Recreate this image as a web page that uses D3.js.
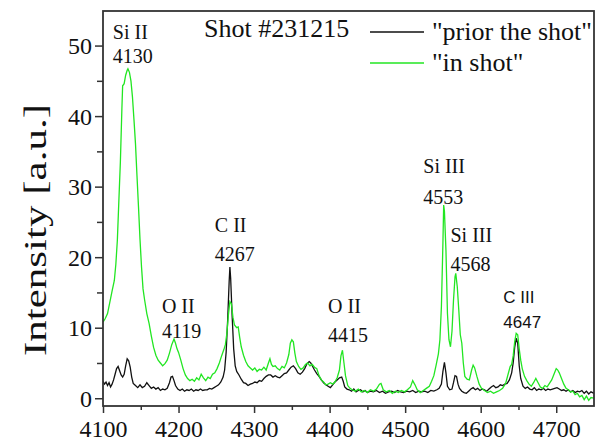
<!DOCTYPE html>
<html><head><meta charset="utf-8">
<script src="https://cdn.jsdelivr.net/npm/d3@7"></script>
<style>body{margin:0;background:#fff}</style>
</head><body><svg id="c" width="602" height="442"></svg>
<script>
// ---- data ----
const priorX=[4100,4102,4104,4106,4108,4110,4112,4114,4116,4118,4120,4122,4124,4126,4128,4130,4132,4134,4136,4138,4140,4143,4146,4149,4152,4155,4158,4161,4164,4167,4170,4173,4176,4179,4182,4185,4188,4190,4192,4194,4196,4199,4202,4205,4208,4211,4214,4217,4220,4223,4226,4229,4232,4235,4238,4241,4244,4247,4250,4253,4256,4259,4261,4263,4265,4267,4268,4269,4271,4273,4275,4277,4280,4283,4286,4289,4292,4295,4298,4301,4304,4307,4310,4313,4316,4319,4322,4325,4328,4331,4334,4337,4340,4343,4346,4349,4352,4355,4358,4361,4364,4367,4370,4373,4375,4377,4380,4383,4386,4389,4392,4395,4398,4401,4404,4407,4410,4413,4416,4418,4420,4423,4426,4429,4432,4435,4438,4441,4444,4447,4450,4454,4458,4462,4466,4470,4474,4478,4482,4486,4490,4494,4498,4502,4506,4510,4514,4518,4522,4526,4530,4534,4538,4542,4545,4548,4550,4552,4554,4556,4559,4562,4564,4566,4568,4570,4572,4575,4578,4581,4584,4587,4590,4593,4596,4599,4602,4605,4608,4611,4614,4617,4620,4623,4626,4629,4632,4635,4638,4641,4643,4645,4647,4649,4651,4653,4656,4659,4662,4665,4668,4671,4674,4677,4680,4683,4686,4689,4692,4695,4698,4701,4704,4707,4710,4713,4716,4719,4722,4725,4728,4731,4734,4737,4740,4743,4746,4750];
const priorY=[2.4,2.0,2.3,1.8,2.2,1.6,2.0,2.6,3.4,4.2,4.5,3.9,3.3,3.0,3.4,4.6,5.6,5.3,4.4,3.0,2.1,1.8,1.5,1.9,1.5,1.7,2.2,1.8,1.4,1.6,1.3,1.5,1.1,1.3,1.2,1.4,2.2,3.0,3.1,2.5,1.8,1.3,1.1,1.3,1.0,1.2,1.1,1.3,1.0,1.2,1.1,1.3,1.1,1.2,1.2,1.4,1.3,1.5,1.7,1.9,2.3,3.0,4.0,6.5,11.0,16.5,18.6,17.0,11.6,7.0,4.6,3.8,3.3,2.7,2.2,2.1,1.8,2.0,2.1,2.3,2.2,2.5,2.4,2.8,3.1,3.3,3.3,3.0,3.2,3.0,2.9,3.2,3.5,3.6,4.0,4.4,4.6,4.2,3.6,3.4,3.7,4.2,4.9,5.2,5.0,4.6,4.0,3.5,3.1,2.6,2.2,1.9,1.7,1.5,1.9,2.3,2.6,2.9,3.0,2.4,1.6,1.3,1.2,1.0,1.3,0.9,1.1,1.2,0.9,1.1,0.8,1.0,0.9,1.1,0.8,1.0,0.7,0.9,1.0,0.8,1.1,0.9,0.8,1.0,0.9,1.1,0.8,1.0,0.9,1.0,0.8,1.1,1.0,1.2,1.4,2.0,3.8,5.1,3.6,1.7,1.2,1.3,2.2,3.2,3.1,2.0,1.4,1.0,0.8,0.7,1.0,1.3,1.5,1.2,1.4,1.1,1.3,1.2,1.0,1.3,1.6,1.8,1.5,1.6,1.9,1.8,2.0,2.1,2.6,3.6,5.0,7.2,8.5,7.8,4.6,2.8,1.7,1.4,1.6,1.3,1.2,1.5,1.1,1.3,1.2,1.4,1.1,1.3,1.2,1.3,1.4,1.5,1.3,1.1,1.2,1.0,1.2,0.9,1.1,0.8,1.0,0.9,1.1,0.7,1.0,0.6,0.9,0.7];
const shotX=[4100,4103,4106,4109,4112,4115,4117,4119,4121,4123,4125,4126,4128,4130,4132,4133,4135,4137,4139,4141,4143,4145,4147,4149,4151,4153,4155,4158,4161,4164,4167,4170,4173,4176,4179,4182,4185,4188,4191,4194,4196,4198,4200,4203,4206,4209,4212,4215,4218,4221,4224,4227,4230,4233,4236,4239,4242,4245,4248,4251,4254,4257,4260,4262,4264,4266,4268,4270,4272,4274,4277,4279,4281,4283,4286,4289,4292,4295,4298,4301,4304,4307,4310,4313,4316,4319,4321,4323,4325,4328,4331,4334,4337,4340,4343,4346,4348,4350,4352,4354,4356,4359,4362,4365,4368,4371,4374,4377,4380,4383,4386,4389,4392,4395,4398,4401,4404,4407,4410,4413,4415,4417,4419,4421,4424,4427,4430,4434,4438,4442,4446,4450,4454,4458,4462,4466,4468,4471,4475,4479,4483,4487,4491,4495,4499,4503,4507,4510,4513,4516,4520,4524,4528,4532,4535,4538,4541,4544,4546,4548,4550,4551,4552,4554,4556,4558,4560,4562,4564,4566,4567,4569,4571,4573,4575,4577,4579,4582,4585,4588,4590,4592,4595,4598,4601,4605,4609,4613,4617,4621,4625,4629,4633,4636,4639,4641,4643,4645,4647,4649,4651,4653,4655,4658,4661,4664,4667,4670,4673,4676,4679,4682,4685,4688,4691,4694,4697,4700,4702,4704,4707,4710,4713,4716,4719,4722,4725,4728,4731,4734,4737,4740,4743,4746,4750];
const shotY=[10.8,11.3,12.0,13.6,15.2,16.7,19.0,22.4,28.0,33.5,41.0,44.3,44.6,45.8,46.5,46.7,46.2,45.0,42.7,39.5,36.1,31.5,27.1,22.5,18.6,15.5,14.0,12.0,10.6,8.8,7.2,6.1,5.4,5.0,4.6,4.9,5.4,6.4,7.6,8.4,7.8,7.0,6.5,5.4,4.2,3.3,2.8,2.5,2.7,2.4,2.9,2.6,3.4,2.9,2.5,3.0,2.8,3.4,3.6,4.2,5.0,6.0,6.9,7.6,9.2,11.8,13.7,13.4,11.5,10.4,10.0,10.1,8.6,7.3,6.1,5.2,4.6,4.3,4.0,4.3,3.8,4.1,4.0,4.4,4.0,5.0,5.6,4.8,4.5,4.6,4.2,4.0,4.5,4.3,5.0,6.2,7.8,8.3,8.0,6.4,5.2,4.5,4.1,4.3,4.8,5.0,4.6,4.8,4.4,4.2,3.2,2.6,2.3,1.9,2.0,2.2,2.0,2.3,2.9,4.0,6.0,6.8,5.0,3.2,1.8,1.4,1.2,1.0,1.3,0.9,1.1,0.8,1.2,1.0,1.3,2.0,2.1,1.2,0.9,1.1,0.7,1.0,0.8,1.1,0.9,1.2,1.6,2.5,1.9,1.2,0.8,1.1,1.4,1.7,2.4,3.2,4.7,6.3,8.3,13.0,22.0,27.4,26.5,21.0,12.0,8.3,7.3,9.5,13.9,17.2,17.7,15.8,12.5,9.0,7.8,5.0,3.1,2.7,2.6,4.0,4.7,4.3,3.1,2.0,1.4,1.1,0.8,1.0,0.7,0.9,1.1,1.4,2.1,3.3,4.5,4.8,6.0,8.0,9.2,9.0,7.0,5.4,4.2,3.1,2.5,2.0,1.7,2.2,2.8,2.2,1.6,1.4,1.8,1.6,2.1,2.6,3.4,4.2,4.0,3.6,2.8,2.0,1.4,1.2,0.9,1.0,0.5,0.7,0.2,0.4,-0.2,0.3,-0.3,0.1,0.0];
const xTicks=[4100,4200,4300,4400,4500,4600,4700];
const yTicks=[0,10,20,30,40,50];
const seriesNames=['"prior the shot"','"in shot"'];
const peakNames=["Si II","O II","C II","O II","Si III","Si III","C III"];
const peakLines=["4130","4119","4267","4415","4553","4568","4647"];

// ---- layout ----
const W=602,H=442,m={l:103,t:11,r:8,b:36};
const svg=d3.select("#c");
const x=d3.scaleLinear().domain([4100,4750]).range([m.l,W-m.r]);
const y=d3.scaleLinear().domain([-1.1,54.9]).range([H-m.b,m.t]);
const serif="'Liberation Serif','Times New Roman',serif";
const axCol="#333";

// lines
const line=d3.line().x(d=>x(d[0])).y(d=>y(d[1]));
const clip=svg.append("clipPath").attr("id","cp").append("rect")
  .attr("x",m.l).attr("y",m.t).attr("width",W-m.l-m.r).attr("height",H-m.t-m.b);
const g=svg.append("g").attr("clip-path","url(#cp)");
g.append("path").datum(d3.zip(priorX,priorY)).attr("d",line)
  .attr("fill","none").attr("stroke","#111").attr("stroke-width",1.3);
g.append("path").datum(d3.zip(shotX,shotY)).attr("d",line)
  .attr("fill","none").attr("stroke","#22e622").attr("stroke-width",1.3);

// axes
const xMinor=d3.range(4150,4750,100);
const yMinor=d3.range(5,55,10);
const gx=svg.append("g").attr("transform",`translate(0,${H-m.b})`);
gx.call(d3.axisBottom(x).tickValues(xTicks).tickSize(7).tickPadding(6).tickFormat(d3.format("d")));
gx.append("g").call(d3.axisBottom(x).tickValues(xMinor).tickSize(4).tickFormat(""));
const gy=svg.append("g").attr("transform",`translate(${m.l},0)`);
gy.call(d3.axisLeft(y).tickValues(yTicks).tickSize(8).tickPadding(3));
gy.append("g").call(d3.axisLeft(y).tickValues(yMinor).tickSize(6).tickFormat(""));
svg.selectAll(".domain").remove();
svg.selectAll(".tick line").attr("stroke",axCol).attr("stroke-width",1.5);
gx.selectAll(".tick text").attr("font-family",serif).attr("font-size",24).attr("fill","#111").attr("dy","0.75em");
gy.selectAll(".tick text").attr("font-family",serif).attr("font-size",24).attr("fill","#111").attr("dy","0.33em");

// frame
svg.append("rect").attr("x",m.l).attr("y",m.t).attr("width",W-m.l-m.r).attr("height",H-m.t-m.b)
  .attr("fill","none").attr("stroke",axCol).attr("stroke-width",1.8);

// y label
svg.append("text").attr("transform",`translate(46,230) rotate(-90)`)
  .attr("text-anchor","middle").attr("font-family",serif).attr("font-size",31)
  .attr("textLength",252).attr("lengthAdjust","spacingAndGlyphs").attr("fill","#111")
  .text("Intensity [a.u.]");

// title
svg.append("text").attr("x",204).attr("y",37).attr("font-family",serif).attr("font-size",26)
  .attr("fill","#111").text("Shot #231215");

// legend
const legCols=["#111","#22e622"], legY=[32,63];
seriesNames.forEach((s,i)=>{
  svg.append("line").attr("x1",370).attr("x2",424).attr("y1",legY[i]).attr("y2",legY[i])
    .attr("stroke",legCols[i]).attr("stroke-width",1.3);
  svg.append("text").attr("x",432).attr("y",legY[i]+8).attr("font-family",serif).attr("font-size",26)
    .attr("fill","#111").text(s);
});

// peak annotations: [start wavelength, baseline intensity of name, of number]
const ann=[[4113,50.9,47.5],[4178,12.1,8.5],[4248,23.6,19.4],[4398,12.1,8.0],[4524,31.9,27.6],[4560,22.1,18.0],[4630,13.5,10.0]];
peakNames.forEach((n,i)=>{
  const sans = i===6;
  const ff = sans ? "'Liberation Sans',Arial,sans-serif" : serif;
  const fs = sans ? 17 : 20;
  svg.append("text").attr("x",x(ann[i][0])).attr("y",y(ann[i][1])).attr("font-family",ff)
    .attr("font-size",fs).attr("fill","#111").text(n);
  svg.append("text").attr("x",x(ann[i][0])).attr("y",y(ann[i][2])).attr("font-family",ff)
    .attr("font-size",fs).attr("fill","#111").text(peakLines[i]);
});
</script></body></html>
